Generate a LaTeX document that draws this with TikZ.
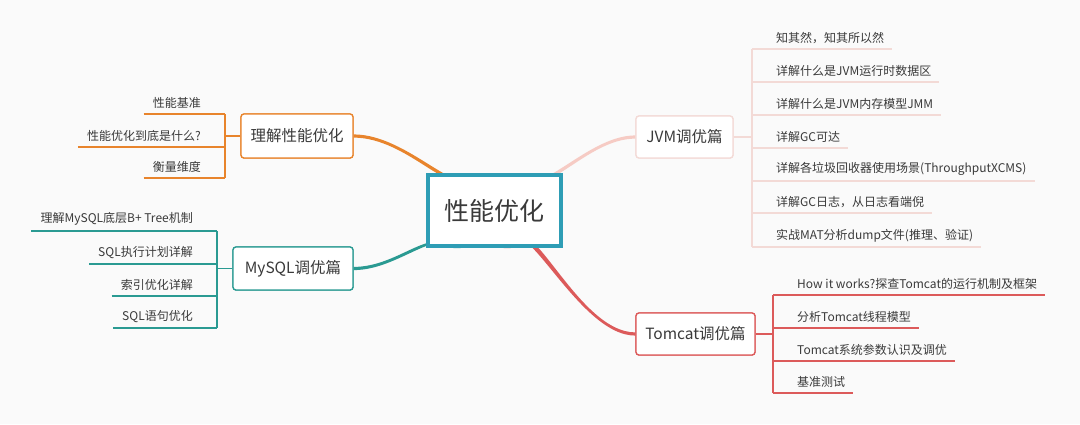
\documentclass[tikz,border=0pt]{standalone}
\usepackage{fontspec}
\setmainfont{Noto Sans CJK SC}
\definecolor{bg}{HTML}{FAFAFA}
\definecolor{txt}{HTML}{3A3A3A}
\definecolor{corec}{HTML}{2E9DB5}
\definecolor{orangec}{HTML}{E8842C}
\definecolor{tealc}{HTML}{2A9A92}
\definecolor{pinkc}{HTML}{F6CBC4}
\definecolor{pinkl}{HTML}{F3DAD6}
\definecolor{redc}{HTML}{DC5A5A}
\begin{document}
\begin{tikzpicture}[x=1pt,y=-1pt,
  corebox/.style={draw=corec, line width=4pt, fill=white, text=txt, minimum width=133pt,
    minimum height=71pt, font=\fontsize{25}{30}\selectfont, inner sep=0pt},
  box/.style={draw, line width=1.3pt, rounded corners=3pt, fill=white, text=txt,
    font=\fontsize{15.5}{18}\selectfont, inner sep=0pt},
  leafL/.style={anchor=south east, inner ysep=5pt, inner xsep=0pt, text=txt,
    font=\fontsize{12}{14}\selectfont,
    execute at begin node={\hspace*{9pt}}, execute at end node={\hspace*{24pt}}},
  leafR/.style={anchor=south west, inner ysep=5pt, inner xsep=0pt, text=txt,
    font=\fontsize{12}{14}\selectfont,
    execute at begin node={\hspace*{24pt}}, execute at end node={\hspace*{8pt}}},
  under/.style={line width=1.4pt}
]
\fill[bg] (0,0) rectangle (1080,424);
\useasboundingbox (0,0) rectangle (1080,424);

% main nodes (positions)
\node[corebox] (core) at (494.5,210.5) {性能优化};
\node[box, draw=orangec, minimum width=112pt, minimum height=44pt] (perf) at (297,136) {理解性能优化};
\node[box, draw=tealc, minimum width=120pt, minimum height=43pt] (mysql) at (293,268.5) {MySQL调优篇};
\node[box, draw=pinkl, minimum width=97pt, minimum height=42pt] (jvm) at (684.5,137) {JVM调优篇};
\node[box, draw=redc, minimum width=119pt, minimum height=42pt] (tom) at (695.5,334) {Tomcat调优篇};

% tapered branches
\fill[orangec] ([xshift=-28pt]core.north) .. controls +(-12,30) and +(55,0) .. ([yshift=-1.6pt]perf.east)
  -- ([yshift=1.6pt]perf.east) .. controls +(55,0) and +(-12,30) .. ([xshift=-21pt]core.north) -- cycle;
\fill[tealc] ([xshift=-41pt]core.south) .. controls +(-24,-22) and +(45,0) .. ([yshift=1.6pt]mysql.east)
  -- ([yshift=-1.6pt]mysql.east) .. controls +(45,0) and +(-24,-22) .. ([xshift=-34pt]core.south) -- cycle;
\fill[pinkc] ([xshift=22pt]core.north) .. controls +(18,33) and +(-50,0) .. ([yshift=1.6pt]jvm.west)
  -- ([yshift=-1.6pt]jvm.west) .. controls +(-50,0) and +(18,33) .. ([xshift=29pt]core.north) -- cycle;
\fill[redc] ([xshift=9pt]core.south) .. controls +(15,-55) and +(-60,0) .. ([yshift=-1.6pt]tom.west)
  -- ([yshift=1.6pt]tom.west) .. controls +(-60,0) and +(15,-55) .. ([xshift=16pt]core.south) -- cycle;

% boxes on top of the branches
\node[corebox] at (core) {性能优化};
\node[box, draw=orangec, minimum width=112pt, minimum height=44pt] at (perf) {理解性能优化};
\node[box, draw=tealc, minimum width=120pt, minimum height=43pt] at (mysql) {MySQL调优篇};
\node[box, draw=pinkl, minimum width=97pt, minimum height=42pt] at (jvm) {JVM调优篇};
\node[box, draw=redc, minimum width=119pt, minimum height=42pt] at (tom) {Tomcat调优篇};

% left: 理解性能优化
\node[leafL] (p1) at (225,114) {性能基准};
\node[leafL] (p2) at (225,147) {性能优化到底是什么?};
\node[leafL] (p3) at (225,178) {衡量维度};
\foreach \n in {p1,p2,p3} \draw[under, orangec] (\n.south west) -- (\n.south east);
\draw[under, orangec] (p1.south east) -- (p3.south east);
\draw[under, orangec] (perf.west) -- (perf.west -| p1.south east);

% left: MySQL
\node[leafL] (m1) at (217,231) {理解MySQL底层B+ Tree机制};
\node[leafL] (m2) at (217,264) {SQL执行计划详解};
\node[leafL] (m3) at (217,296) {索引优化详解};
\node[leafL] (m4) at (217,328) {SQL语句优化};
\foreach \n in {m1,m2,m3,m4} \draw[under, tealc] (\n.south west) -- (\n.south east);
\draw[under, tealc] (m1.south east) -- (m4.south east);
\draw[under, tealc] (mysql.west) -- (mysql.west -| m1.south east);

% right: JVM
\node[leafR] (j1) at (752,49) {知其然，知其所以然};
\node[leafR] (j2) at (752,82) {详解什么是JVM运行时数据区};
\node[leafR] (j3) at (752,115) {详解什么是JVM内存模型JMM};
\node[leafR] (j4) at (752,148) {详解GC可达};
\node[leafR] (j5) at (752,181) {详解各垃圾回收器使用场景(ThroughputXCMS)};
\node[leafR] (j6) at (752,213) {详解GC日志，从日志看端倪};
\node[leafR] (j7) at (752,247) {实战MAT分析dump文件(推理、验证)};
\foreach \n in {j1,j2,j3,j4,j5,j6,j7} \draw[under, pinkl] (\n.south west) -- (\n.south east);
\draw[under, pinkl] (j1.south west) -- (j7.south west);
\draw[under, pinkl] (jvm.east) -- (jvm.east -| j1.south west);

% right: Tomcat
\node[leafR] (t1) at (773,295) {How it works?探查Tomcat的运行机制及框架};
\node[leafR] (t2) at (773,328) {分析Tomcat线程模型};
\node[leafR] (t3) at (773,361) {Tomcat系统参数认识及调优};
\node[leafR] (t4) at (773,393) {基准测试};
\foreach \n in {t1,t2,t3,t4} \draw[under, redc] (\n.south west) -- (\n.south east);
\draw[under, redc] (t1.south west) -- (t4.south west);
\draw[under, redc] (tom.east) -- (tom.east -| t1.south west);
\end{tikzpicture}
\end{document}
